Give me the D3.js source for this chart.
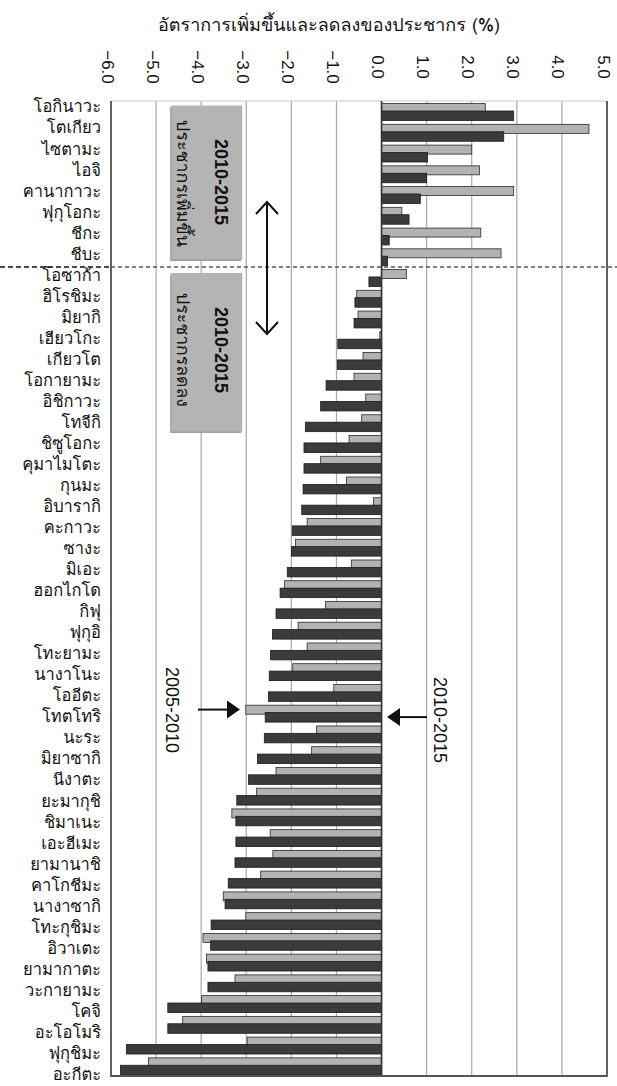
<!DOCTYPE html>
<html><head><meta charset="utf-8">
<script src="https://cdn.jsdelivr.net/npm/d3@7"></script>
<style>
html,body{margin:0;padding:0;background:#fff;}
svg{display:block;}
</style></head>
<body>
<svg id="chart" width="617" height="1086"></svg>
<script>
const title = "อัตราการเพิ่มขึ้นและลดลงของประชากร (%)";
const categories = ["โอกินาวะ","โตเกียว","ไซตามะ","ไอจิ","คานากาวะ","ฟุกุโอกะ","ชีกะ","ชีบะ","โอซาก้า","ฮิโรชิมะ","มิยากิ","เฮียวโกะ","เกียวโต","โอกายามะ","อิชิกาวะ","โทจีกิ","ชิซูโอกะ","คุมาไมโตะ","กุนมะ","อิบารากิ","คะกาวะ","ซางะ","มิเอะ","ฮอกไกโด","กิฟุ","ฟุกุอิ","โทะยามะ","นางาโนะ","โออีตะ","โทตโทริ","นะระ","มิยาซากิ","นีงาตะ","ยะมากุชิ","ชิมาเนะ","เอะฮีเมะ","ยามานาชิ","คาโกชีมะ","นางาซากิ","โทะกุชิมะ","อิวาเตะ","ยามากาตะ","วะกายามะ","โคจิ","อะโอโมริ","ฟุกุชิมะ","อะกีตะ"];
const rate2005_2010 = [2.3,4.6,2.0,2.17,2.93,0.45,2.2,2.65,0.55,-0.55,-0.52,-0.04,-0.41,-0.61,-0.35,-0.44,-0.72,-1.35,-0.78,-0.18,-1.65,-1.91,-0.67,-2.15,-1.24,-1.85,-1.65,-1.97,-1.06,-3.01,-1.44,-1.55,-2.34,-2.77,-3.32,-2.47,-2.41,-2.68,-3.51,-3.01,-3.96,-3.88,-3.25,-3.99,-4.41,-2.98,-5.17];
const rate2010_2015 = [2.93,2.71,1.02,1.0,0.86,0.61,0.17,0.13,-0.28,-0.59,-0.61,-0.97,-0.98,-1.23,-1.35,-1.69,-1.72,-1.72,-1.74,-1.77,-1.98,-2.0,-2.09,-2.25,-2.34,-2.42,-2.46,-2.49,-2.51,-2.58,-2.6,-2.75,-2.95,-3.21,-3.23,-3.23,-3.25,-3.4,-3.47,-3.78,-3.79,-3.85,-3.85,-4.74,-4.74,-5.66,-5.79];
const tickValues = [-6,-5,-4,-3,-2,-1,0,1,2,3,4,5];
const tickLabels = ["−6.0","−5.0","−4.0","−3.0","−2.0","−1.0","0.0","1.0","2.0","3.0","4.0","5.0"];
const boxLabels = [{period:"2010-2015", text:"ประชากรเพิ่มขึ้น"},{period:"2010-2015", text:"ประชากรลดลง"}];
const arrowLabels = ["2005-2010","2010-2015"];

(function(){
const thaiFont = "Tahoma, Loma, 'Noto Sans Thai', 'Noto Sans', 'DejaVu Sans', sans-serif";
const numFont = "'Liberation Sans', Arial, sans-serif";

const svg = d3.select("#chart");
const pL = 111, pR = 607, pT = 101, pB = 1076;
const x = d3.scaleLinear().domain([-6,5]).range([pL,pR]);
const y = d3.scaleBand().domain(categories).range([pT,pB]).padding(0);
const bw = y.bandwidth();
const yLabel = d3.scalePoint().domain(categories).range([107.5,1075]);

// title
svg.append("text").attr("x",329).attr("y",31).attr("text-anchor","middle")
  .attr("font-family",thaiFont).attr("font-size",18).attr("fill","#111").text(title);

// tick labels (rotated)
svg.append("g").selectAll("text").data(tickValues).join("text")
  .attr("transform",d=>`translate(${x(d)},67) rotate(90)`)
  .attr("text-anchor","middle").attr("dy","9.5px")
  .attr("font-family",numFont).attr("font-size",17).attr("fill","#111")
  .text((d,i)=>tickLabels[i]);

// gridlines
svg.append("g").selectAll("line").data(tickValues).join("line")
  .attr("x1",d=>x(d)).attr("x2",d=>x(d)).attr("y1",pT).attr("y2",pB)
  .attr("stroke","#a8a8a8").attr("stroke-width",1.2);
svg.append("line").attr("x1",pL).attr("x2",pR).attr("y1",pT).attr("y2",pT)
  .attr("stroke","#c8c8c8").attr("stroke-width",1);

// annotation boxes
const boxes = [
  {x0:-4.7, x1:-3.1, y0:categories[0], y1:categories[7], off0:4.5, off1:-7.5},
  {x0:-4.7, x1:-3.1, y0:categories[8], y1:categories[15], off0:6, off1:-1.5}
];
const boxG = svg.append("g");
boxes.forEach((b,i)=>{
  const bx0 = x(b.x0)+1.5, bx1 = x(b.x1)+0.5;
  const by0 = y(b.y0)+b.off0, by1 = y(b.y1)+bw+b.off1;
  boxG.append("rect").attr("x",bx0-1).attr("y",by0+1.5).attr("width",bx1-bx0).attr("height",by1-by0)
    .attr("fill","#9a9a9a");
  boxG.append("rect").attr("x",bx0).attr("y",by0).attr("width",bx1-bx0).attr("height",by1-by0)
    .attr("fill","#b4b4b4");
});
const boxTextPos = [
  {px:221.5, py:182, tx:182, ty0:120, tlen:127},
  {px:221.5, py:350, tx:182, ty0:293, tlen:114}
];
boxTextPos.forEach((p,i)=>{
  svg.append("text").attr("transform",`translate(${p.px},${p.py}) rotate(90)`)
    .attr("text-anchor","middle").attr("dy","0.36em")
    .attr("font-family",numFont).attr("font-weight","bold").attr("font-size",18).attr("fill","#111")
    .text(boxLabels[i].period);
  svg.append("text").attr("transform",`translate(${p.tx},${p.ty0}) rotate(90)`)
    .attr("text-anchor","start").attr("dy","0.3em")
    .attr("font-family",thaiFont).attr("font-size",17).attr("fill","#111")
    .attr("textLength",p.tlen).attr("lengthAdjust","spacingAndGlyphs")
    .text(boxLabels[i].text);
});

// bars
const barG = svg.append("g");
barG.selectAll("rect.a").data(categories).join("rect").attr("class","a")
  .attr("x",(d,i)=>x(Math.min(0,rate2005_2010[i])))
  .attr("width",(d,i)=>Math.abs(x(rate2005_2010[i])-x(0)))
  .attr("y",d=>y(d)+2.6).attr("height",9)
  .attr("fill","#b2b2b2").attr("stroke","#2a2a2a").attr("stroke-width",0.8);
barG.selectAll("rect.b").data(categories).join("rect").attr("class","b")
  .attr("x",(d,i)=>x(Math.min(0,rate2010_2015[i])))
  .attr("width",(d,i)=>Math.abs(x(rate2010_2015[i])-x(0)))
  .attr("y",d=>y(d)+10).attr("height",9.5)
  .attr("fill","#3b3b3b").attr("stroke","#1a1a1a").attr("stroke-width",0.8);

// zero line and frame
svg.append("line").attr("x1",x(0)).attr("x2",x(0)).attr("y1",pT).attr("y2",pB)
  .attr("stroke","#333").attr("stroke-width",1.6);
svg.append("line").attr("x1",pL).attr("x2",pL).attr("y1",pT).attr("y2",pB+1)
  .attr("stroke","#555").attr("stroke-width",1.8);
svg.append("line").attr("x1",pR).attr("x2",pR).attr("y1",pT).attr("y2",pB+1)
  .attr("stroke","#555").attr("stroke-width",1.8);
svg.append("line").attr("x1",pL).attr("x2",pR).attr("y1",pB).attr("y2",pB)
  .attr("stroke","#555").attr("stroke-width",1.8);

// category labels
svg.append("g").selectAll("text").data(categories).join("text")
  .attr("x",101).attr("y",d=>yLabel(d)).attr("dy","0.3em")
  .attr("text-anchor","end").attr("font-family",thaiFont).attr("font-size",16.5).attr("fill","#111")
  .text(d=>d);

// dashed divider
const divY = y(categories[8]);
svg.append("line").attr("x1",0).attr("x2",pL).attr("y1",divY).attr("y2",divY)
  .attr("stroke","#111").attr("stroke-width",1.4).attr("stroke-dasharray","5,3");
svg.append("line").attr("x1",pL).attr("x2",617).attr("y1",divY).attr("y2",divY)
  .attr("stroke","#555").attr("stroke-width",1.4).attr("stroke-dasharray","4,3");

// double arrow
const ax = 267;
svg.append("line").attr("x1",ax).attr("x2",ax).attr("y1",202).attr("y2",334)
  .attr("stroke","#111").attr("stroke-width",2);
svg.append("path").attr("d",`M${ax-11},214 L${ax},202 L${ax+11},214`)
  .attr("fill","none").attr("stroke","#111").attr("stroke-width",2);
svg.append("path").attr("d",`M${ax-11},322 L${ax},334 L${ax+11},322`)
  .attr("fill","none").attr("stroke","#111").attr("stroke-width",2);

// side arrows pointing to Tottori
const tot = categories.indexOf("โทตโทริ");
const aY1 = y(categories[tot])+7, aY2 = y(categories[tot])+14.5;
svg.append("line").attr("x1",198).attr("x2",230).attr("y1",aY1).attr("y2",aY1)
  .attr("stroke","#111").attr("stroke-width",2);
svg.append("path").attr("d",`M227,${aY1-9} L240,${aY1} L227,${aY1+9} Z`).attr("fill","#111");
svg.append("line").attr("x1",396).attr("x2",427).attr("y1",aY2).attr("y2",aY2)
  .attr("stroke","#111").attr("stroke-width",2);
svg.append("path").attr("d",`M400,${aY2-9} L387,${aY2} L400,${aY2+9} Z`).attr("fill","#111");

svg.append("text").attr("transform",`translate(172,710) rotate(90)`)
  .attr("text-anchor","middle").attr("dy","0.36em")
  .attr("font-family",numFont).attr("font-size",18).attr("fill","#111").text(arrowLabels[0]);
svg.append("text").attr("transform",`translate(440,720) rotate(90)`)
  .attr("text-anchor","middle").attr("dy","0.36em")
  .attr("font-family",numFont).attr("font-size",18).attr("fill","#111").text(arrowLabels[1]);
})();
</script>
</body></html>
